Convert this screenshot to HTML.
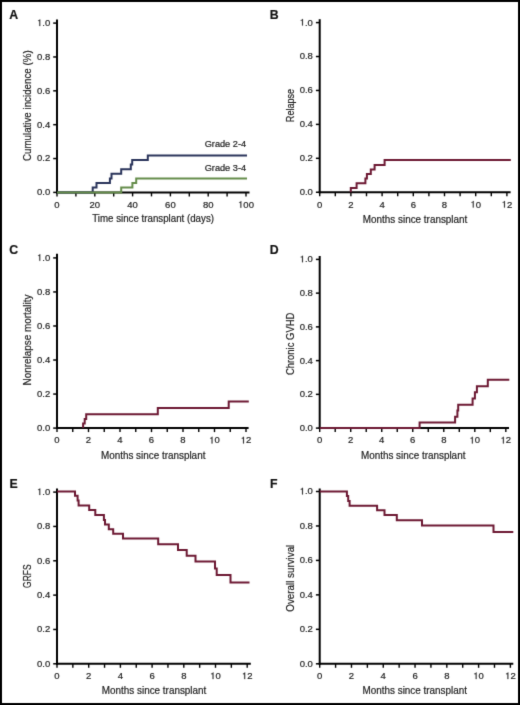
<!DOCTYPE html>
<html><head><meta charset="utf-8"><style>
html,body{margin:0;padding:0;background:#fff;}
body{width:520px;height:705px;overflow:hidden;}
svg{display:block;will-change:transform;font-family:"Liberation Sans",sans-serif;}
text{stroke:#222;stroke-width:0.2px;}
</style></head><body>
<svg width="520" height="705" viewBox="0 0 520 705">
<defs><filter id="soft" x="0" y="0" width="520" height="705" filterUnits="userSpaceOnUse" color-interpolation-filters="sRGB"><feConvolveMatrix order="3" kernelMatrix="0.01134 0.08382 0.01134 0.08382 0.61935 0.08382 0.01134 0.08382 0.01134" edgeMode="duplicate" preserveAlpha="true"/></filter></defs>
<g filter="url(#soft)">
<rect x="0" y="0" width="520" height="705" fill="#fff"/>
<line x1="57" y1="19.6" x2="57" y2="193.4" stroke="#000" stroke-width="2"/>
<line x1="56" y1="192.4" x2="249.5" y2="192.4" stroke="#000" stroke-width="2"/>
<line x1="53.2" y1="192.4" x2="57" y2="192.4" stroke="#000" stroke-width="1.5"/>
<text x="36.99" y="195.3" font-size="9.5" fill="#222">0.0</text>
<line x1="53.2" y1="158.54" x2="57" y2="158.54" stroke="#000" stroke-width="1.5"/>
<text x="36.99" y="161.44" font-size="9.5" fill="#222">0.2</text>
<line x1="53.2" y1="124.68" x2="57" y2="124.68" stroke="#000" stroke-width="1.5"/>
<text x="36.99" y="127.58" font-size="9.5" fill="#222">0.4</text>
<line x1="53.2" y1="90.82" x2="57" y2="90.82" stroke="#000" stroke-width="1.5"/>
<text x="36.99" y="93.72" font-size="9.5" fill="#222">0.6</text>
<line x1="53.2" y1="56.96" x2="57" y2="56.96" stroke="#000" stroke-width="1.5"/>
<text x="36.99" y="59.86" font-size="9.5" fill="#222">0.8</text>
<line x1="53.2" y1="23.1" x2="57" y2="23.1" stroke="#000" stroke-width="1.5"/>
<text x="36.99" y="26" font-size="9.5" fill="#222"> .0</text>
<path transform="translate(36.99 26) scale(0.00464 -0.00464)" d="M515 0H696V1409H575C548 1262 452 1196 222 1180V1062H515Z" fill="#222" stroke="#222" stroke-width="43.12"/>
<line x1="57" y1="192.4" x2="57" y2="196.4" stroke="#000" stroke-width="1.4"/>
<text x="54.36" y="207.7" font-size="9.5" fill="#222">0</text>
<line x1="75.9" y1="192.4" x2="75.9" y2="196.4" stroke="#000" stroke-width="1.4"/>
<line x1="94.8" y1="192.4" x2="94.8" y2="196.4" stroke="#000" stroke-width="1.4"/>
<text x="89.52" y="207.7" font-size="9.5" fill="#222">20</text>
<line x1="113.7" y1="192.4" x2="113.7" y2="196.4" stroke="#000" stroke-width="1.4"/>
<line x1="132.6" y1="192.4" x2="132.6" y2="196.4" stroke="#000" stroke-width="1.4"/>
<text x="127.32" y="207.7" font-size="9.5" fill="#222">40</text>
<line x1="151.5" y1="192.4" x2="151.5" y2="196.4" stroke="#000" stroke-width="1.4"/>
<line x1="170.4" y1="192.4" x2="170.4" y2="196.4" stroke="#000" stroke-width="1.4"/>
<text x="165.12" y="207.7" font-size="9.5" fill="#222">60</text>
<line x1="189.3" y1="192.4" x2="189.3" y2="196.4" stroke="#000" stroke-width="1.4"/>
<line x1="208.2" y1="192.4" x2="208.2" y2="196.4" stroke="#000" stroke-width="1.4"/>
<text x="202.92" y="207.7" font-size="9.5" fill="#222">80</text>
<line x1="227.1" y1="192.4" x2="227.1" y2="196.4" stroke="#000" stroke-width="1.4"/>
<line x1="246" y1="192.4" x2="246" y2="196.4" stroke="#000" stroke-width="1.4"/>
<text x="238.07" y="207.7" font-size="9.5" fill="#222"> 00</text>
<path transform="translate(238.07 207.7) scale(0.00464 -0.00464)" d="M515 0H696V1409H575C548 1262 452 1196 222 1180V1062H515Z" fill="#222" stroke="#222" stroke-width="43.12"/>
<path d="M57 192.4 H92.7 V187.6 H96.5 V183 H109.9 V178.4 H111.5 V173.8 H121.2 V169.2 H130.8 V164.6 H132.2 V160 H147.8 V155.5 H247" fill="none" stroke="#29335a" stroke-width="2" stroke-linejoin="miter" stroke-linecap="butt"/>
<path d="M57 192.4 H121.2 V187.6 H132.4 V183 H136.2 V178.5 H247" fill="none" stroke="#648c4a" stroke-width="2" stroke-linejoin="miter" stroke-linecap="butt"/>
<text x="204.7" y="146.9" font-size="9" fill="#222" textLength="41.4" lengthAdjust="spacingAndGlyphs">Grade 2-4</text>
<text x="204.7" y="170.8" font-size="9" fill="#222" textLength="41.4" lengthAdjust="spacingAndGlyphs">Grade 3-4</text>
<text transform="translate(30.9 105.7) rotate(-90)" text-anchor="middle" font-size="10.5" fill="#222" textLength="110.8" lengthAdjust="spacingAndGlyphs">Cumulative incidence (%)</text>
<text x="92.2" y="222.2" font-size="10.5" fill="#222" textLength="121.8" lengthAdjust="spacingAndGlyphs">Time since transplant (days)</text>
<text x="9.3" y="19.3" font-size="12.3" font-weight="bold" fill="#111">A</text>
<line x1="319.7" y1="19.2" x2="319.7" y2="193.25" stroke="#000" stroke-width="2"/>
<line x1="318.7" y1="192.25" x2="510.6" y2="192.25" stroke="#000" stroke-width="2"/>
<line x1="315.9" y1="192.25" x2="319.7" y2="192.25" stroke="#000" stroke-width="1.5"/>
<text x="299.69" y="195.15" font-size="9.5" fill="#222">0.0</text>
<line x1="315.9" y1="158.32" x2="319.7" y2="158.32" stroke="#000" stroke-width="1.5"/>
<text x="299.69" y="161.22" font-size="9.5" fill="#222">0.2</text>
<line x1="315.9" y1="124.39" x2="319.7" y2="124.39" stroke="#000" stroke-width="1.5"/>
<text x="299.69" y="127.29" font-size="9.5" fill="#222">0.4</text>
<line x1="315.9" y1="90.46" x2="319.7" y2="90.46" stroke="#000" stroke-width="1.5"/>
<text x="299.69" y="93.36" font-size="9.5" fill="#222">0.6</text>
<line x1="315.9" y1="56.53" x2="319.7" y2="56.53" stroke="#000" stroke-width="1.5"/>
<text x="299.69" y="59.43" font-size="9.5" fill="#222">0.8</text>
<line x1="315.9" y1="22.6" x2="319.7" y2="22.6" stroke="#000" stroke-width="1.5"/>
<text x="299.69" y="25.5" font-size="9.5" fill="#222"> .0</text>
<path transform="translate(299.69 25.5) scale(0.00464 -0.00464)" d="M515 0H696V1409H575C548 1262 452 1196 222 1180V1062H515Z" fill="#222" stroke="#222" stroke-width="43.12"/>
<line x1="319.7" y1="192.25" x2="319.7" y2="196.25" stroke="#000" stroke-width="1.4"/>
<text x="317.06" y="207.55" font-size="9.5" fill="#222">0</text>
<line x1="335.3" y1="192.25" x2="335.3" y2="196.25" stroke="#000" stroke-width="1.4"/>
<line x1="350.9" y1="192.25" x2="350.9" y2="196.25" stroke="#000" stroke-width="1.4"/>
<text x="348.26" y="207.55" font-size="9.5" fill="#222">2</text>
<line x1="366.5" y1="192.25" x2="366.5" y2="196.25" stroke="#000" stroke-width="1.4"/>
<line x1="382.1" y1="192.25" x2="382.1" y2="196.25" stroke="#000" stroke-width="1.4"/>
<text x="379.46" y="207.55" font-size="9.5" fill="#222">4</text>
<line x1="397.7" y1="192.25" x2="397.7" y2="196.25" stroke="#000" stroke-width="1.4"/>
<line x1="413.3" y1="192.25" x2="413.3" y2="196.25" stroke="#000" stroke-width="1.4"/>
<text x="410.66" y="207.55" font-size="9.5" fill="#222">6</text>
<line x1="428.9" y1="192.25" x2="428.9" y2="196.25" stroke="#000" stroke-width="1.4"/>
<line x1="444.5" y1="192.25" x2="444.5" y2="196.25" stroke="#000" stroke-width="1.4"/>
<text x="441.86" y="207.55" font-size="9.5" fill="#222">8</text>
<line x1="460.1" y1="192.25" x2="460.1" y2="196.25" stroke="#000" stroke-width="1.4"/>
<line x1="475.7" y1="192.25" x2="475.7" y2="196.25" stroke="#000" stroke-width="1.4"/>
<text x="470.42" y="207.55" font-size="9.5" fill="#222"> 0</text>
<path transform="translate(470.42 207.55) scale(0.00464 -0.00464)" d="M515 0H696V1409H575C548 1262 452 1196 222 1180V1062H515Z" fill="#222" stroke="#222" stroke-width="43.12"/>
<line x1="491.3" y1="192.25" x2="491.3" y2="196.25" stroke="#000" stroke-width="1.4"/>
<line x1="506.9" y1="192.25" x2="506.9" y2="196.25" stroke="#000" stroke-width="1.4"/>
<text x="501.62" y="207.55" font-size="9.5" fill="#222"> 2</text>
<path transform="translate(501.62 207.55) scale(0.00464 -0.00464)" d="M515 0H696V1409H575C548 1262 452 1196 222 1180V1062H515Z" fill="#222" stroke="#222" stroke-width="43.12"/>
<path d="M350.8 192.25 V188.1 H356.6 V183.3 H365.4 V178.5 H366.9 V173.9 H370.8 V169.5 H374.6 V165 H384.6 V160.1 H510.8" fill="none" stroke="#6c1832" stroke-width="2" stroke-linejoin="miter" stroke-linecap="butt"/>
<text transform="translate(293.6 105.5) rotate(-90)" text-anchor="middle" font-size="10.5" fill="#222" textLength="33.3" lengthAdjust="spacingAndGlyphs">Relapse</text>
<text x="362.8" y="222.8" font-size="10.5" fill="#222" textLength="104.5" lengthAdjust="spacingAndGlyphs">Months since transplant</text>
<text x="269.7" y="19.3" font-size="12.3" font-weight="bold" fill="#111">B</text>
<line x1="57" y1="253.8" x2="57" y2="429.1" stroke="#000" stroke-width="2"/>
<line x1="56" y1="428.1" x2="248.6" y2="428.1" stroke="#000" stroke-width="2"/>
<line x1="53.2" y1="428.1" x2="57" y2="428.1" stroke="#000" stroke-width="1.5"/>
<text x="36.99" y="431" font-size="9.5" fill="#222">0.0</text>
<line x1="53.2" y1="394.06" x2="57" y2="394.06" stroke="#000" stroke-width="1.5"/>
<text x="36.99" y="396.96" font-size="9.5" fill="#222">0.2</text>
<line x1="53.2" y1="360.02" x2="57" y2="360.02" stroke="#000" stroke-width="1.5"/>
<text x="36.99" y="362.92" font-size="9.5" fill="#222">0.4</text>
<line x1="53.2" y1="325.98" x2="57" y2="325.98" stroke="#000" stroke-width="1.5"/>
<text x="36.99" y="328.88" font-size="9.5" fill="#222">0.6</text>
<line x1="53.2" y1="291.94" x2="57" y2="291.94" stroke="#000" stroke-width="1.5"/>
<text x="36.99" y="294.84" font-size="9.5" fill="#222">0.8</text>
<line x1="53.2" y1="257.9" x2="57" y2="257.9" stroke="#000" stroke-width="1.5"/>
<text x="36.99" y="260.8" font-size="9.5" fill="#222"> .0</text>
<path transform="translate(36.99 260.8) scale(0.00464 -0.00464)" d="M515 0H696V1409H575C548 1262 452 1196 222 1180V1062H515Z" fill="#222" stroke="#222" stroke-width="43.12"/>
<line x1="57" y1="428.1" x2="57" y2="432.1" stroke="#000" stroke-width="1.4"/>
<text x="54.36" y="443.4" font-size="9.5" fill="#222">0</text>
<line x1="72.75" y1="428.1" x2="72.75" y2="432.1" stroke="#000" stroke-width="1.4"/>
<line x1="88.5" y1="428.1" x2="88.5" y2="432.1" stroke="#000" stroke-width="1.4"/>
<text x="85.86" y="443.4" font-size="9.5" fill="#222">2</text>
<line x1="104.25" y1="428.1" x2="104.25" y2="432.1" stroke="#000" stroke-width="1.4"/>
<line x1="120" y1="428.1" x2="120" y2="432.1" stroke="#000" stroke-width="1.4"/>
<text x="117.36" y="443.4" font-size="9.5" fill="#222">4</text>
<line x1="135.75" y1="428.1" x2="135.75" y2="432.1" stroke="#000" stroke-width="1.4"/>
<line x1="151.5" y1="428.1" x2="151.5" y2="432.1" stroke="#000" stroke-width="1.4"/>
<text x="148.86" y="443.4" font-size="9.5" fill="#222">6</text>
<line x1="167.25" y1="428.1" x2="167.25" y2="432.1" stroke="#000" stroke-width="1.4"/>
<line x1="183" y1="428.1" x2="183" y2="432.1" stroke="#000" stroke-width="1.4"/>
<text x="180.36" y="443.4" font-size="9.5" fill="#222">8</text>
<line x1="198.75" y1="428.1" x2="198.75" y2="432.1" stroke="#000" stroke-width="1.4"/>
<line x1="214.5" y1="428.1" x2="214.5" y2="432.1" stroke="#000" stroke-width="1.4"/>
<text x="209.22" y="443.4" font-size="9.5" fill="#222"> 0</text>
<path transform="translate(209.22 443.4) scale(0.00464 -0.00464)" d="M515 0H696V1409H575C548 1262 452 1196 222 1180V1062H515Z" fill="#222" stroke="#222" stroke-width="43.12"/>
<line x1="230.25" y1="428.1" x2="230.25" y2="432.1" stroke="#000" stroke-width="1.4"/>
<line x1="246" y1="428.1" x2="246" y2="432.1" stroke="#000" stroke-width="1.4"/>
<text x="240.72" y="443.4" font-size="9.5" fill="#222"> 2</text>
<path transform="translate(240.72 443.4) scale(0.00464 -0.00464)" d="M515 0H696V1409H575C548 1262 452 1196 222 1180V1062H515Z" fill="#222" stroke="#222" stroke-width="43.12"/>
<path d="M83.1 428.1 V423.5 H84.7 V418.9 H86.2 V414.2 H157.8 V408.1 H228.7 V401.6 H248.8" fill="none" stroke="#6c1832" stroke-width="2" stroke-linejoin="miter" stroke-linecap="butt"/>
<text transform="translate(30.9 340) rotate(-90)" text-anchor="middle" font-size="10.5" fill="#222" textLength="91" lengthAdjust="spacingAndGlyphs">Nonrelapse mortality</text>
<text x="100.9" y="458.5" font-size="10.5" fill="#222" textLength="104.5" lengthAdjust="spacingAndGlyphs">Months since transplant</text>
<text x="9.3" y="253.6" font-size="12.3" font-weight="bold" fill="#111">C</text>
<line x1="319.7" y1="256" x2="319.7" y2="429.1" stroke="#000" stroke-width="2"/>
<line x1="318.7" y1="428.1" x2="509" y2="428.1" stroke="#000" stroke-width="2"/>
<line x1="315.9" y1="428.1" x2="319.7" y2="428.1" stroke="#000" stroke-width="1.5"/>
<text x="299.69" y="431" font-size="9.5" fill="#222">0.0</text>
<line x1="315.9" y1="394.36" x2="319.7" y2="394.36" stroke="#000" stroke-width="1.5"/>
<text x="299.69" y="397.26" font-size="9.5" fill="#222">0.2</text>
<line x1="315.9" y1="360.62" x2="319.7" y2="360.62" stroke="#000" stroke-width="1.5"/>
<text x="299.69" y="363.52" font-size="9.5" fill="#222">0.4</text>
<line x1="315.9" y1="326.88" x2="319.7" y2="326.88" stroke="#000" stroke-width="1.5"/>
<text x="299.69" y="329.78" font-size="9.5" fill="#222">0.6</text>
<line x1="315.9" y1="293.14" x2="319.7" y2="293.14" stroke="#000" stroke-width="1.5"/>
<text x="299.69" y="296.04" font-size="9.5" fill="#222">0.8</text>
<line x1="315.9" y1="259.4" x2="319.7" y2="259.4" stroke="#000" stroke-width="1.5"/>
<text x="299.69" y="262.3" font-size="9.5" fill="#222"> .0</text>
<path transform="translate(299.69 262.3) scale(0.00464 -0.00464)" d="M515 0H696V1409H575C548 1262 452 1196 222 1180V1062H515Z" fill="#222" stroke="#222" stroke-width="43.12"/>
<line x1="319.7" y1="428.1" x2="319.7" y2="432.1" stroke="#000" stroke-width="1.4"/>
<text x="317.06" y="443.4" font-size="9.5" fill="#222">0</text>
<line x1="335.21" y1="428.1" x2="335.21" y2="432.1" stroke="#000" stroke-width="1.4"/>
<line x1="350.72" y1="428.1" x2="350.72" y2="432.1" stroke="#000" stroke-width="1.4"/>
<text x="348.08" y="443.4" font-size="9.5" fill="#222">2</text>
<line x1="366.23" y1="428.1" x2="366.23" y2="432.1" stroke="#000" stroke-width="1.4"/>
<line x1="381.74" y1="428.1" x2="381.74" y2="432.1" stroke="#000" stroke-width="1.4"/>
<text x="379.1" y="443.4" font-size="9.5" fill="#222">4</text>
<line x1="397.25" y1="428.1" x2="397.25" y2="432.1" stroke="#000" stroke-width="1.4"/>
<line x1="412.76" y1="428.1" x2="412.76" y2="432.1" stroke="#000" stroke-width="1.4"/>
<text x="410.12" y="443.4" font-size="9.5" fill="#222">6</text>
<line x1="428.27" y1="428.1" x2="428.27" y2="432.1" stroke="#000" stroke-width="1.4"/>
<line x1="443.78" y1="428.1" x2="443.78" y2="432.1" stroke="#000" stroke-width="1.4"/>
<text x="441.14" y="443.4" font-size="9.5" fill="#222">8</text>
<line x1="459.29" y1="428.1" x2="459.29" y2="432.1" stroke="#000" stroke-width="1.4"/>
<line x1="474.8" y1="428.1" x2="474.8" y2="432.1" stroke="#000" stroke-width="1.4"/>
<text x="469.52" y="443.4" font-size="9.5" fill="#222"> 0</text>
<path transform="translate(469.52 443.4) scale(0.00464 -0.00464)" d="M515 0H696V1409H575C548 1262 452 1196 222 1180V1062H515Z" fill="#222" stroke="#222" stroke-width="43.12"/>
<line x1="490.31" y1="428.1" x2="490.31" y2="432.1" stroke="#000" stroke-width="1.4"/>
<line x1="505.82" y1="428.1" x2="505.82" y2="432.1" stroke="#000" stroke-width="1.4"/>
<text x="500.54" y="443.4" font-size="9.5" fill="#222"> 2</text>
<path transform="translate(500.54 443.4) scale(0.00464 -0.00464)" d="M515 0H696V1409H575C548 1262 452 1196 222 1180V1062H515Z" fill="#222" stroke="#222" stroke-width="43.12"/>
<path d="M319.7 428.1 H419.6 V422.5 H455.1 V416.7 H457.4 V410.6 H458.2 V404.7 H472.6 V398.5 H474.9 V392.2 H476.9 V386.2 H487.8 V379.7 H509.3" fill="none" stroke="#6c1832" stroke-width="2" stroke-linejoin="miter" stroke-linecap="butt"/>
<text transform="translate(293.8 343.9) rotate(-90)" text-anchor="middle" font-size="10.5" fill="#222" textLength="62.4" lengthAdjust="spacingAndGlyphs">Chronic GVHD</text>
<text x="360.9" y="458.5" font-size="10.5" fill="#222" textLength="104.5" lengthAdjust="spacingAndGlyphs">Months since transplant</text>
<text x="269.7" y="253.6" font-size="12.3" font-weight="bold" fill="#111">D</text>
<line x1="57" y1="488.5" x2="57" y2="664.8" stroke="#000" stroke-width="2"/>
<line x1="56" y1="663.8" x2="250.8" y2="663.8" stroke="#000" stroke-width="2"/>
<line x1="53.2" y1="663.8" x2="57" y2="663.8" stroke="#000" stroke-width="1.5"/>
<text x="36.99" y="666.7" font-size="9.5" fill="#222">0.0</text>
<line x1="53.2" y1="629.46" x2="57" y2="629.46" stroke="#000" stroke-width="1.5"/>
<text x="36.99" y="632.36" font-size="9.5" fill="#222">0.2</text>
<line x1="53.2" y1="595.12" x2="57" y2="595.12" stroke="#000" stroke-width="1.5"/>
<text x="36.99" y="598.02" font-size="9.5" fill="#222">0.4</text>
<line x1="53.2" y1="560.78" x2="57" y2="560.78" stroke="#000" stroke-width="1.5"/>
<text x="36.99" y="563.68" font-size="9.5" fill="#222">0.6</text>
<line x1="53.2" y1="526.44" x2="57" y2="526.44" stroke="#000" stroke-width="1.5"/>
<text x="36.99" y="529.34" font-size="9.5" fill="#222">0.8</text>
<line x1="53.2" y1="492.1" x2="57" y2="492.1" stroke="#000" stroke-width="1.5"/>
<text x="36.99" y="495" font-size="9.5" fill="#222"> .0</text>
<path transform="translate(36.99 495) scale(0.00464 -0.00464)" d="M515 0H696V1409H575C548 1262 452 1196 222 1180V1062H515Z" fill="#222" stroke="#222" stroke-width="43.12"/>
<line x1="57" y1="663.8" x2="57" y2="667.8" stroke="#000" stroke-width="1.4"/>
<text x="54.36" y="679.1" font-size="9.5" fill="#222">0</text>
<line x1="72.85" y1="663.8" x2="72.85" y2="667.8" stroke="#000" stroke-width="1.4"/>
<line x1="88.7" y1="663.8" x2="88.7" y2="667.8" stroke="#000" stroke-width="1.4"/>
<text x="86.06" y="679.1" font-size="9.5" fill="#222">2</text>
<line x1="104.55" y1="663.8" x2="104.55" y2="667.8" stroke="#000" stroke-width="1.4"/>
<line x1="120.4" y1="663.8" x2="120.4" y2="667.8" stroke="#000" stroke-width="1.4"/>
<text x="117.76" y="679.1" font-size="9.5" fill="#222">4</text>
<line x1="136.25" y1="663.8" x2="136.25" y2="667.8" stroke="#000" stroke-width="1.4"/>
<line x1="152.1" y1="663.8" x2="152.1" y2="667.8" stroke="#000" stroke-width="1.4"/>
<text x="149.46" y="679.1" font-size="9.5" fill="#222">6</text>
<line x1="167.95" y1="663.8" x2="167.95" y2="667.8" stroke="#000" stroke-width="1.4"/>
<line x1="183.8" y1="663.8" x2="183.8" y2="667.8" stroke="#000" stroke-width="1.4"/>
<text x="181.16" y="679.1" font-size="9.5" fill="#222">8</text>
<line x1="199.65" y1="663.8" x2="199.65" y2="667.8" stroke="#000" stroke-width="1.4"/>
<line x1="215.5" y1="663.8" x2="215.5" y2="667.8" stroke="#000" stroke-width="1.4"/>
<text x="210.22" y="679.1" font-size="9.5" fill="#222"> 0</text>
<path transform="translate(210.22 679.1) scale(0.00464 -0.00464)" d="M515 0H696V1409H575C548 1262 452 1196 222 1180V1062H515Z" fill="#222" stroke="#222" stroke-width="43.12"/>
<line x1="231.35" y1="663.8" x2="231.35" y2="667.8" stroke="#000" stroke-width="1.4"/>
<line x1="247.2" y1="663.8" x2="247.2" y2="667.8" stroke="#000" stroke-width="1.4"/>
<text x="241.92" y="679.1" font-size="9.5" fill="#222"> 2</text>
<path transform="translate(241.92 679.1) scale(0.00464 -0.00464)" d="M515 0H696V1409H575C548 1262 452 1196 222 1180V1062H515Z" fill="#222" stroke="#222" stroke-width="43.12"/>
<path d="M57 491.6 H75 V495.8 H77.6 V500.6 H78.6 V505.4 H89.2 V510 H95.3 V515.1 H103.9 V520 H105 V524.6 H108.8 V529.2 H113.2 V533.8 H123 V538.4 H158.2 V544.2 H178 V550 H186.7 V555.7 H195.5 V561.6 H215 V568.6 H216.7 V575 H230.5 V582.5 H249.5" fill="none" stroke="#6c1832" stroke-width="2" stroke-linejoin="miter" stroke-linecap="butt"/>
<text transform="translate(31.2 576.2) rotate(-90)" text-anchor="middle" font-size="10.5" fill="#222" textLength="23.4" lengthAdjust="spacingAndGlyphs">GRFS</text>
<text x="101.8" y="694.2" font-size="10.5" fill="#222" textLength="104.5" lengthAdjust="spacingAndGlyphs">Months since transplant</text>
<text x="9.5" y="487.8" font-size="12.3" font-weight="bold" fill="#111">E</text>
<line x1="319.7" y1="488.5" x2="319.7" y2="664.8" stroke="#000" stroke-width="2"/>
<line x1="318.7" y1="663.8" x2="513.3" y2="663.8" stroke="#000" stroke-width="2"/>
<line x1="315.9" y1="663.8" x2="319.7" y2="663.8" stroke="#000" stroke-width="1.5"/>
<text x="299.69" y="666.7" font-size="9.5" fill="#222">0.0</text>
<line x1="315.9" y1="629.34" x2="319.7" y2="629.34" stroke="#000" stroke-width="1.5"/>
<text x="299.69" y="632.24" font-size="9.5" fill="#222">0.2</text>
<line x1="315.9" y1="594.88" x2="319.7" y2="594.88" stroke="#000" stroke-width="1.5"/>
<text x="299.69" y="597.78" font-size="9.5" fill="#222">0.4</text>
<line x1="315.9" y1="560.42" x2="319.7" y2="560.42" stroke="#000" stroke-width="1.5"/>
<text x="299.69" y="563.32" font-size="9.5" fill="#222">0.6</text>
<line x1="315.9" y1="525.96" x2="319.7" y2="525.96" stroke="#000" stroke-width="1.5"/>
<text x="299.69" y="528.86" font-size="9.5" fill="#222">0.8</text>
<line x1="315.9" y1="491.5" x2="319.7" y2="491.5" stroke="#000" stroke-width="1.5"/>
<text x="299.69" y="494.4" font-size="9.5" fill="#222"> .0</text>
<path transform="translate(299.69 494.4) scale(0.00464 -0.00464)" d="M515 0H696V1409H575C548 1262 452 1196 222 1180V1062H515Z" fill="#222" stroke="#222" stroke-width="43.12"/>
<line x1="319.7" y1="663.8" x2="319.7" y2="667.8" stroke="#000" stroke-width="1.4"/>
<text x="317.06" y="679.1" font-size="9.5" fill="#222">0</text>
<line x1="335.59" y1="663.8" x2="335.59" y2="667.8" stroke="#000" stroke-width="1.4"/>
<line x1="351.48" y1="663.8" x2="351.48" y2="667.8" stroke="#000" stroke-width="1.4"/>
<text x="348.84" y="679.1" font-size="9.5" fill="#222">2</text>
<line x1="367.37" y1="663.8" x2="367.37" y2="667.8" stroke="#000" stroke-width="1.4"/>
<line x1="383.26" y1="663.8" x2="383.26" y2="667.8" stroke="#000" stroke-width="1.4"/>
<text x="380.62" y="679.1" font-size="9.5" fill="#222">4</text>
<line x1="399.15" y1="663.8" x2="399.15" y2="667.8" stroke="#000" stroke-width="1.4"/>
<line x1="415.04" y1="663.8" x2="415.04" y2="667.8" stroke="#000" stroke-width="1.4"/>
<text x="412.4" y="679.1" font-size="9.5" fill="#222">6</text>
<line x1="430.93" y1="663.8" x2="430.93" y2="667.8" stroke="#000" stroke-width="1.4"/>
<line x1="446.82" y1="663.8" x2="446.82" y2="667.8" stroke="#000" stroke-width="1.4"/>
<text x="444.18" y="679.1" font-size="9.5" fill="#222">8</text>
<line x1="462.71" y1="663.8" x2="462.71" y2="667.8" stroke="#000" stroke-width="1.4"/>
<line x1="478.6" y1="663.8" x2="478.6" y2="667.8" stroke="#000" stroke-width="1.4"/>
<text x="473.32" y="679.1" font-size="9.5" fill="#222"> 0</text>
<path transform="translate(473.32 679.1) scale(0.00464 -0.00464)" d="M515 0H696V1409H575C548 1262 452 1196 222 1180V1062H515Z" fill="#222" stroke="#222" stroke-width="43.12"/>
<line x1="494.49" y1="663.8" x2="494.49" y2="667.8" stroke="#000" stroke-width="1.4"/>
<line x1="510.38" y1="663.8" x2="510.38" y2="667.8" stroke="#000" stroke-width="1.4"/>
<text x="505.1" y="679.1" font-size="9.5" fill="#222"> 2</text>
<path transform="translate(505.1 679.1) scale(0.00464 -0.00464)" d="M515 0H696V1409H575C548 1262 452 1196 222 1180V1062H515Z" fill="#222" stroke="#222" stroke-width="43.12"/>
<path d="M319.7 491.5 H346.9 V496 H348.2 V501 H349.6 V505.8 H377.1 V510.3 H384.5 V515.1 H396.8 V520.2 H422 V525.5 H493.5 V531.9 H513.3" fill="none" stroke="#6c1832" stroke-width="2" stroke-linejoin="miter" stroke-linecap="butt"/>
<text transform="translate(294.3 578.2) rotate(-90)" text-anchor="middle" font-size="10.5" fill="#222" textLength="67" lengthAdjust="spacingAndGlyphs">Overall survival</text>
<text x="362.5" y="694" font-size="10.5" fill="#222" textLength="104.5" lengthAdjust="spacingAndGlyphs">Months since transplant</text>
<text x="270" y="488" font-size="12.3" font-weight="bold" fill="#111">F</text>
<rect x="1" y="1" width="518" height="703" fill="none" stroke="#000" stroke-width="2"/>
</g>
</svg>
</body></html>
